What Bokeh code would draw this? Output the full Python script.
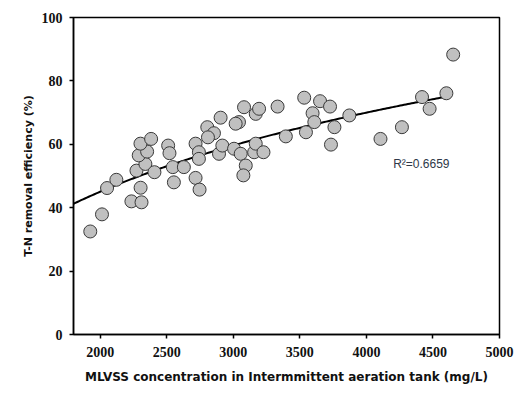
import numpy as np
from bokeh.plotting import figure
from bokeh.models import Range1d, Label, ColumnDataSource, FixedTicker
from bokeh.embed import file_html
from bokeh.resources import INLINE

# MLVSS concentration (mg/L)
mlvss = [1926, 2014, 2052, 2122, 2235, 2311, 2304, 2273, 2340, 2408,
         2290, 2353, 2303, 2383, 2511, 2521, 2546, 2554, 2629, 2717,
         2742, 2742, 2717, 2747, 2805, 2855, 2810, 2905, 2893, 2918,
         3006, 3043, 3018, 3081, 3169, 3194, 3056, 3094, 3076, 3157,
         3169, 3227, 3333, 3395, 3533, 3546, 3596, 3609, 3652, 3727,
         3734, 3760, 3872, 4106, 4267, 4418, 4475, 4601, 4652]
# T-N removal efficiency (%)
tn_removal = [32.5, 37.9, 46.2, 48.8, 42.0, 41.7, 46.3, 51.7, 53.8, 51.2,
              56.5, 57.7, 60.2, 61.7, 59.6, 57.2, 52.8, 48.0, 52.8, 60.2,
              57.5, 55.4, 49.4, 45.7, 65.4, 63.5, 62.2, 68.4, 57.0, 59.6,
              58.6, 67.0, 66.5, 71.7, 69.6, 71.2, 57.0, 53.3, 50.2, 57.5,
              60.2, 57.5, 71.9, 62.5, 74.7, 63.8, 69.8, 67.0, 73.6, 71.9,
              59.9, 65.4, 69.1, 61.7, 65.4, 74.9, 71.2, 76.1, 88.3]

x_ticks = [2000, 2500, 3000, 3500, 4000, 4500, 5000]
y_ticks = [0, 20, 40, 60, 80, 100]

x_title = "MLVSS concentration in Intermmittent aeration tank (mg/L)"
y_title = "T-N removal efficiency (%)"

# logarithmic trend line: y = a*ln(x) + b
fit_a = 36.0
fit_b = -228.6
fit_x_start = 1800
fit_x_end = 4640
r2_text = "R\u00b2=0.6659"

p = figure(width=516, height=393, output_backend="svg", toolbar_location=None,
           x_range=Range1d(1800, 5000), y_range=Range1d(0, 100),
           min_border_left=73, min_border_right=17, min_border_top=17,
           min_border_bottom=59)

p.background_fill_color = "white"
p.border_fill_color = "white"
p.outline_line_color = "black"
p.outline_line_width = 1.5
p.xgrid.visible = False
p.ygrid.visible = False

fx = np.linspace(fit_x_start, fit_x_end, 200)
fy = fit_a * np.log(fx) + fit_b
p.line(fx, fy, line_color="black", line_width=2)

src = ColumnDataSource(dict(x=mlvss, y=tn_removal))
p.scatter("x", "y", source=src, size=13, fill_color="#c0c0c0",
          line_color="#3a3a3a", line_width=1)

p.xaxis.ticker = FixedTicker(ticks=x_ticks)
p.yaxis.ticker = FixedTicker(ticks=y_ticks)

for ax in (p.xaxis, p.yaxis):
    ax.axis_line_color = "black"
    ax.axis_line_width = 1.5
    ax.major_tick_line_color = "black"
    ax.major_tick_line_width = 1.5
    ax.major_tick_in = 0
    ax.major_tick_out = 4
    ax.minor_tick_line_color = None
    ax.major_label_text_font = "Liberation Sans Narrow"
    ax.major_label_text_font_style = "bold"
    ax.major_label_text_font_size = "14px"
    ax.major_label_text_color = "#111111"
    ax.axis_label_text_font = "DejaVu Sans"
    ax.axis_label_text_font_style = "bold"
    ax.axis_label_text_color = "#111111"

p.xaxis.axis_label = x_title
p.xaxis.axis_label_text_font_size = "12px"
p.xaxis.major_label_standoff = 8
p.xaxis.axis_label_standoff = 10

p.yaxis.axis_label = y_title
p.yaxis.axis_label_text_font_size = "11px"
p.yaxis.major_label_standoff = 7
p.yaxis.axis_label_standoff = 4

lab = Label(x=4413, y=53.9, text=r2_text,
            text_font="Liberation Sans Narrow, Liberation Sans, sans-serif",
            text_font_size="12px", text_color="#2e3848", text_align="center",
            text_baseline="middle")
p.add_layout(lab)

open("out.html", "w").write(file_html(p, INLINE))
